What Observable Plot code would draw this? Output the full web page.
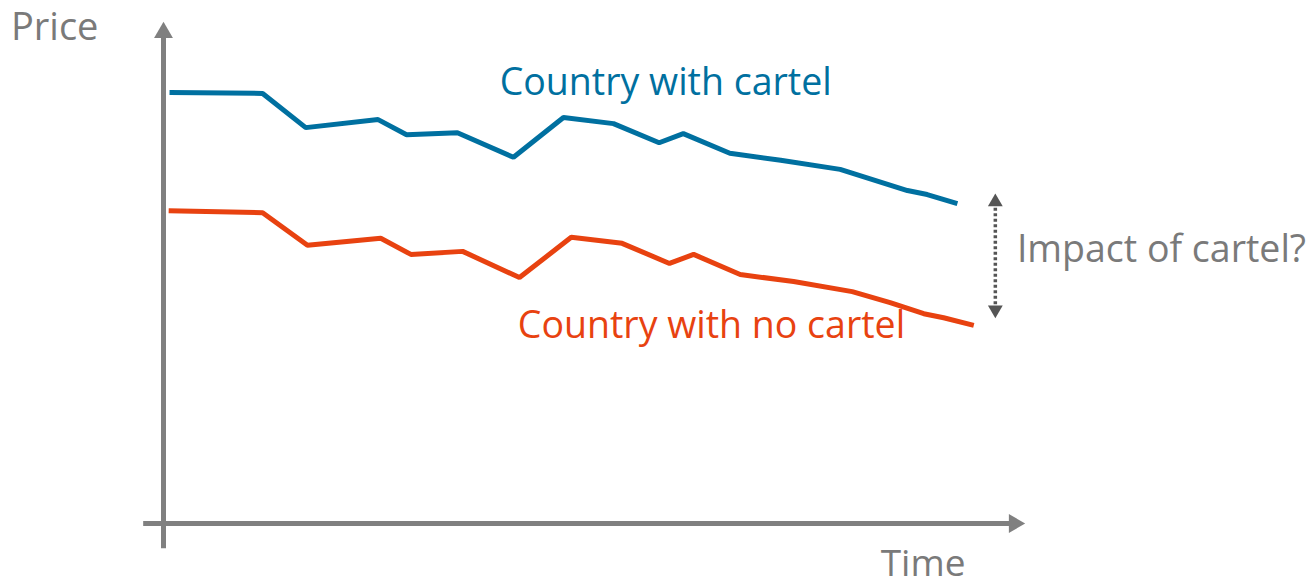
<!DOCTYPE html>
<html>
<head>
<meta charset="utf-8">
<script src="https://cdn.jsdelivr.net/npm/d3@7"></script>
<script src="https://cdn.jsdelivr.net/npm/@observablehq/plot@0.6"></script>
<style>
  html, body { margin: 0; padding: 0; background: #fff; }
  #chart svg { display: block; }
</style>
</head>
<body>
<div id="chart"></div>
<script>
// Time (0–100 units) and price (0–100 units)
const timeCartel  = [0.7, 11.5, 16.5, 24.9, 28.2, 34.1, 40.6, 46.4, 52.2, 57.5, 60.3, 65.7, 71.6, 78.5, 86.3, 88.6, 92.1];
const priceCartel = [85.7, 85.5, 78.7, 80.3, 77.3, 77.7, 72.8, 80.7, 79.5, 75.7, 77.5, 73.6, 72.2, 70.4, 66.2, 65.4, 63.6];
const timeNoCartel  = [0.6, 11.5, 16.7, 25.2, 28.7, 34.7, 41.3, 47.3, 53.2, 58.7, 61.5, 66.9, 73.1, 79.9, 84.3, 88.2, 90.5, 94.0];
const priceNoCartel = [62.2, 61.8, 55.3, 56.7, 53.5, 54.1, 48.9, 56.9, 55.7, 51.7, 53.5, 49.5, 48.1, 46.1, 43.9, 41.7, 40.9, 39.4];

const seriesNames = ["Country with cartel", "Country with no cartel"];
const axisTitles = ["Price", "Time"];
const questionLabel = "Impact of cartel?";

const cartel = timeCartel.map((t, i) => ({t, p: priceCartel[i]}));
const noCartel = timeNoCartel.map((t, i) => ({t, p: priceNoCartel[i]}));

const BLUE = "#0070a0", RED = "#e84210", AXIS = "#808080", GREY_TEXT = "#7a7a7a", DARK = "#555555";
const FONT = "'Open Sans', sans-serif";

const chart = Plot.plot({
  width: 1313,
  height: 586,
  marginLeft: 163,
  marginRight: 288,
  marginTop: 20,
  marginBottom: 63,
  x: {domain: [0, 100], axis: null},
  y: {domain: [0, 100], axis: null},
  style: {fontFamily: FONT, background: "#fff"},
  marks: [
    // axes
    Plot.ruleX([0], {y1: -5, y2: 97, stroke: AXIS, strokeWidth: 5}),
    Plot.ruleY([0], {x1: -2.3, x2: 98.5, stroke: AXIS, strokeWidth: 5}),
    Plot.dot([{t: 0, p: 97.6}], {x: "t", y: "p", symbol: "triangle", r: 7, fill: AXIS, stroke: null}),
    Plot.dot([{t: 98.7, p: 0}], {x: "t", y: "p", symbol: "triangle", r: 7, fill: AXIS, stroke: null, rotate: 90}),
    // series
    Plot.line(cartel, {x: "t", y: "p", stroke: BLUE, strokeWidth: 5, strokeLinejoin: "miter", strokeLinecap: "butt"}),
    Plot.line(noCartel, {x: "t", y: "p", stroke: RED, strokeWidth: 5, strokeLinejoin: "miter", strokeLinecap: "butt"}),
    // dotted double arrow
    Plot.ruleX([96.5], {y1: 43.5, y2: 62.8, stroke: DARK, strokeWidth: 3.5, strokeDasharray: "3,2.5"}),
    Plot.dot([{t: 96.5, p: 63.9}], {x: "t", y: "p", symbol: "triangle", r: 5.5, fill: DARK, stroke: null}),
    Plot.dot([{t: 96.5, p: 42.5}], {x: "t", y: "p", symbol: "triangle", r: 5.5, fill: DARK, stroke: null, rotate: 180}),
    // labels
    Plot.text([axisTitles[0]], {x: -17.7, y: 98.6, text: d => d, textAnchor: "start", lineAnchor: "middle", fontSize: 38, fill: GREY_TEXT}),
    Plot.text([axisTitles[1]], {x: 83.2, y: -8.1, text: d => d, textAnchor: "start", lineAnchor: "middle", fontSize: 37, fill: GREY_TEXT}),
    Plot.text([seriesNames[0]], {x: 39.0, y: 87.5, text: d => d, textAnchor: "start", lineAnchor: "middle", fontSize: 37.5, fill: BLUE}),
    Plot.text([seriesNames[1]], {x: 41.1, y: 39.2, text: d => d, textAnchor: "start", lineAnchor: "middle", fontSize: 37.5, fill: RED}),
    Plot.text([questionLabel], {x: 99.0, y: 54.3, text: d => d, textAnchor: "start", lineAnchor: "middle", fontSize: 37.5, fill: GREY_TEXT})
  ]
});
document.getElementById("chart").appendChild(chart);
</script>
</body>
</html>
